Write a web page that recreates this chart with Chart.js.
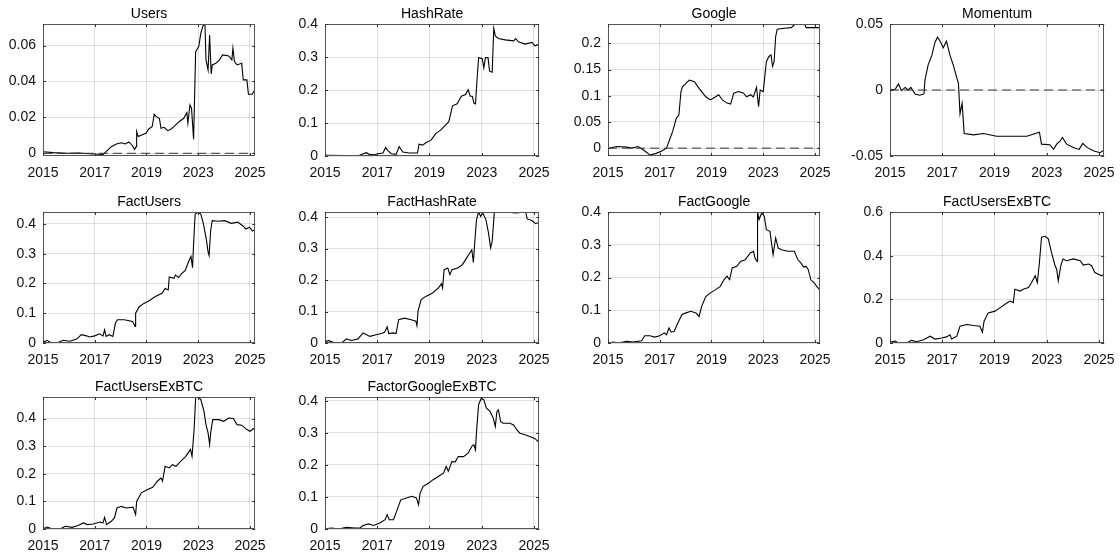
<!DOCTYPE html>
<html>
<head>
<meta charset="utf-8">
<script src="https://cdn.jsdelivr.net/npm/chart.js@4.4.1/dist/chart.umd.min.js"></script>
<style>
  html, body { margin: 0; padding: 0; background: #fff; }
  #wrap { position: relative; width: 1120px; height: 555px; overflow: hidden; background: #fff; }
  .panel { position: absolute; }
</style>
</head>
<body>
<div id="wrap"></div>
<script>
// ---------- data (x = position along the time axis, in tick intervals) ----------
const titles = ["Users", "HashRate", "Google", "Momentum", "FactUsers", "FactHashRate", "FactGoogle", "FactUsersExBTC", "FactUsersExBTC", "FactorGoogleExBTC"];
const xTickLabels = ["2015", "2017", "2019", "2023", "2025"];

const users = [[0,0.0009],[0.20,0.0004],[0.46,0.0],[0.71,0.0002],[0.97,-0.0004],[1.16,-0.0006],[1.22,0.0009],[1.32,0.0037],[1.42,0.0052],[1.51,0.0059],[1.59,0.0052],[1.66,0.0063],[1.72,0.0045],[1.77,0.0022],[1.80,0.0037],[1.81,0.0121],[1.84,0.0093],[1.91,0.0102],[1.99,0.0111],[2.04,0.0134],[2.11,0.0149],[2.15,0.0217],[2.19,0.0204],[2.25,0.0193],[2.28,0.0139],[2.34,0.0145],[2.41,0.0126],[2.47,0.0134],[2.53,0.0149],[2.63,0.0176],[2.72,0.0195],[2.78,0.0227],[2.80,0.0167],[2.84,0.0269],[2.87,0.0251],[2.90,0.0121],[2.91,0.0078],[2.95,0.0566],[3.01,0.0594],[3.05,0.0669],[3.09,0.0709],[3.13,0.0720],[3.15,0.0520],[3.19,0.0464],[3.22,0.0659],[3.25,0.0442],[3.27,0.0492],[3.34,0.0501],[3.41,0.0520],[3.47,0.0548],[3.59,0.0542],[3.65,0.0520],[3.67,0.0585],[3.70,0.0511],[3.75,0.0492],[3.84,0.0501],[3.87,0.0409],[3.94,0.0409],[3.97,0.0329],[4.04,0.0329],[4.10,0.0357]];

const hashRate = [[0,0.002],[0.41,0.001],[0.66,0.002],[0.73,0.007],[0.79,0.010],[0.85,0.005],[0.95,0.004],[1.01,0.007],[1.11,0.009],[1.16,0.026],[1.20,0.017],[1.27,0.007],[1.36,0.005],[1.42,0.028],[1.49,0.012],[1.61,0.009],[1.77,0.009],[1.80,0.036],[1.87,0.033],[1.93,0.040],[2.03,0.048],[2.12,0.068],[2.22,0.079],[2.31,0.094],[2.37,0.104],[2.44,0.152],[2.53,0.158],[2.61,0.181],[2.69,0.186],[2.74,0.201],[2.78,0.181],[2.82,0.181],[2.85,0.160],[2.88,0.158],[2.91,0.232],[2.94,0.298],[3.01,0.295],[3.04,0.267],[3.07,0.298],[3.12,0.298],[3.15,0.257],[3.20,0.254],[3.23,0.387],[3.26,0.364],[3.32,0.356],[3.45,0.352],[3.61,0.349],[3.65,0.356],[3.70,0.346],[3.83,0.339],[3.96,0.344],[4.02,0.334],[4.10,0.339]];

const google = [[0,-0.001],[0.17,0.003],[0.36,0.002],[0.46,0.0],[0.58,0.003],[0.68,-0.003],[0.81,-0.013],[0.93,-0.010],[1.03,-0.006],[1.13,0.0],[1.19,0.016],[1.25,0.032],[1.32,0.057],[1.37,0.063],[1.41,0.108],[1.44,0.117],[1.51,0.124],[1.57,0.130],[1.67,0.127],[1.76,0.114],[1.89,0.098],[1.98,0.092],[2.08,0.098],[2.14,0.102],[2.21,0.092],[2.30,0.086],[2.37,0.084],[2.43,0.105],[2.52,0.108],[2.62,0.105],[2.68,0.098],[2.75,0.102],[2.81,0.098],[2.87,0.116],[2.91,0.079],[2.94,0.111],[3.00,0.108],[3.06,0.165],[3.11,0.175],[3.15,0.178],[3.18,0.156],[3.21,0.165],[3.24,0.213],[3.27,0.227],[3.41,0.229],[3.54,0.230],[3.62,0.237],[3.80,0.237],[3.83,0.230],[4.10,0.230]];

const momentum = [[0,0.0],[0.10,0.0005],[0.16,0.0046],[0.22,-0.0005],[0.29,0.002],[0.35,0.0],[0.40,0.002],[0.48,-0.003],[0.57,-0.004],[0.65,-0.003],[0.67,0.0077],[0.73,0.019],[0.80,0.026],[0.86,0.036],[0.91,0.040],[0.96,0.037],[1.02,0.032],[1.08,0.037],[1.15,0.026],[1.21,0.019],[1.28,0.009],[1.31,0.005],[1.34,-0.018],[1.38,-0.010],[1.42,-0.033],[1.60,-0.034],[1.79,-0.033],[2.04,-0.035],[2.36,-0.035],[2.62,-0.035],[2.86,-0.032],[2.90,-0.041],[3.06,-0.0415],[3.13,-0.045],[3.19,-0.041],[3.25,-0.039],[3.30,-0.036],[3.38,-0.041],[3.51,-0.0435],[3.62,-0.045],[3.69,-0.0405],[3.77,-0.0435],[3.89,-0.046],[4.02,-0.0475],[4.10,-0.0455]];

const factUsers = [[0,0.002],[0.08,0.009],[0.14,0.002],[0.27,0.0],[0.39,0.009],[0.52,0.006],[0.65,0.013],[0.74,0.028],[0.84,0.024],[0.90,0.020],[1.00,0.024],[1.09,0.031],[1.16,0.024],[1.19,0.044],[1.22,0.022],[1.28,0.028],[1.35,0.022],[1.40,0.067],[1.44,0.078],[1.57,0.078],[1.73,0.072],[1.78,0.056],[1.79,0.100],[1.86,0.122],[1.95,0.133],[2.05,0.142],[2.17,0.156],[2.30,0.167],[2.36,0.183],[2.42,0.178],[2.44,0.222],[2.53,0.217],[2.56,0.228],[2.62,0.220],[2.68,0.233],[2.75,0.244],[2.81,0.272],[2.86,0.291],[2.89,0.253],[2.91,0.333],[2.94,0.433],[3.00,0.439],[3.05,0.433],[3.10,0.400],[3.16,0.344],[3.19,0.306],[3.21,0.294],[3.24,0.378],[3.27,0.411],[3.39,0.409],[3.51,0.411],[3.64,0.402],[3.76,0.406],[3.86,0.394],[3.92,0.383],[3.99,0.389],[4.05,0.376],[4.09,0.380]];

const factHashRate = [[0,0.002],[0.06,0.008],[0.16,0.002],[0.32,0.0],[0.41,0.013],[0.51,0.008],[0.63,0.013],[0.73,0.032],[0.86,0.021],[0.98,0.026],[1.08,0.030],[1.14,0.034],[1.19,0.051],[1.22,0.030],[1.30,0.032],[1.36,0.030],[1.41,0.074],[1.52,0.079],[1.65,0.074],[1.74,0.069],[1.76,0.055],[1.78,0.101],[1.84,0.138],[1.93,0.148],[2.06,0.159],[2.17,0.175],[2.23,0.188],[2.25,0.175],[2.28,0.233],[2.35,0.238],[2.39,0.217],[2.43,0.233],[2.54,0.238],[2.63,0.249],[2.73,0.275],[2.81,0.296],[2.84,0.256],[2.87,0.328],[2.90,0.392],[2.94,0.416],[2.98,0.402],[3.02,0.413],[3.08,0.392],[3.13,0.349],[3.17,0.302],[3.20,0.323],[3.24,0.413],[3.27,0.416],[3.46,0.416],[3.65,0.413],[3.84,0.416],[3.87,0.394],[3.96,0.389],[4.03,0.379],[4.09,0.383]];

const factGoogle = [[0,0.0],[0.11,0.003],[0.20,0.0],[0.36,0.005],[0.49,0.003],[0.65,0.007],[0.71,0.022],[0.81,0.022],[0.90,0.018],[1.00,0.022],[1.09,0.031],[1.13,0.025],[1.18,0.046],[1.22,0.033],[1.28,0.036],[1.35,0.061],[1.43,0.087],[1.51,0.092],[1.60,0.097],[1.70,0.092],[1.76,0.081],[1.81,0.112],[1.89,0.142],[1.98,0.153],[2.08,0.163],[2.17,0.173],[2.24,0.193],[2.30,0.204],[2.35,0.193],[2.40,0.229],[2.49,0.234],[2.56,0.249],[2.65,0.254],[2.75,0.275],[2.81,0.280],[2.84,0.260],[2.88,0.249],[2.89,0.400],[2.92,0.377],[2.97,0.397],[3.02,0.387],[3.06,0.346],[3.13,0.341],[3.16,0.305],[3.19,0.270],[3.24,0.321],[3.29,0.290],[3.35,0.285],[3.48,0.280],[3.60,0.280],[3.67,0.254],[3.73,0.244],[3.78,0.232],[3.83,0.234],[3.87,0.224],[3.92,0.193],[3.99,0.183],[4.04,0.171],[4.09,0.163]];

const factUsersExBTC = [[0,0.003],[0.10,0.009],[0.16,0.0],[0.32,0.0],[0.41,0.012],[0.51,0.006],[0.64,0.015],[0.77,0.031],[0.86,0.018],[0.99,0.023],[1.08,0.028],[1.15,0.038],[1.18,0.018],[1.28,0.031],[1.34,0.077],[1.47,0.085],[1.60,0.080],[1.72,0.077],[1.77,0.049],[1.80,0.100],[1.88,0.138],[2.01,0.146],[2.11,0.162],[2.23,0.182],[2.30,0.192],[2.36,0.185],[2.39,0.246],[2.49,0.238],[2.55,0.246],[2.65,0.254],[2.71,0.277],[2.78,0.308],[2.82,0.277],[2.86,0.369],[2.90,0.485],[2.97,0.489],[3.03,0.477],[3.09,0.415],[3.16,0.354],[3.19,0.338],[3.22,0.285],[3.27,0.354],[3.31,0.385],[3.38,0.377],[3.51,0.385],[3.64,0.377],[3.70,0.357],[3.80,0.362],[3.86,0.354],[3.92,0.323],[3.99,0.315],[4.05,0.308],[4.10,0.315]];

const factUsersExBTC2 = [[0,0.001],[0.08,0.007],[0.17,0.001],[0.33,0.0],[0.43,0.010],[0.56,0.006],[0.68,0.013],[0.78,0.022],[0.86,0.016],[0.97,0.018],[1.10,0.025],[1.16,0.022],[1.19,0.042],[1.23,0.016],[1.32,0.028],[1.38,0.040],[1.43,0.076],[1.51,0.082],[1.61,0.076],[1.74,0.079],[1.79,0.052],[1.81,0.100],[1.90,0.131],[2.02,0.143],[2.12,0.151],[2.21,0.173],[2.28,0.185],[2.31,0.173],[2.36,0.227],[2.44,0.221],[2.50,0.233],[2.57,0.227],[2.66,0.245],[2.76,0.263],[2.85,0.288],[2.88,0.263],[2.92,0.360],[2.95,0.475],[3.00,0.478],[3.05,0.469],[3.11,0.427],[3.15,0.378],[3.19,0.348],[3.22,0.306],[3.24,0.348],[3.28,0.396],[3.40,0.396],[3.49,0.390],[3.59,0.402],[3.68,0.400],[3.75,0.378],[3.84,0.376],[3.94,0.360],[4.00,0.354],[4.07,0.364],[4.10,0.360]];

const factorGoogleExBTC = [[0,0.001],[0.13,0.003],[0.26,0.0],[0.41,0.005],[0.57,0.003],[0.67,0.003],[0.73,0.011],[0.83,0.016],[0.93,0.011],[1.05,0.019],[1.15,0.029],[1.19,0.045],[1.23,0.029],[1.31,0.029],[1.37,0.055],[1.45,0.091],[1.56,0.097],[1.66,0.102],[1.75,0.097],[1.79,0.076],[1.82,0.112],[1.88,0.133],[1.98,0.143],[2.07,0.154],[2.17,0.164],[2.27,0.175],[2.32,0.195],[2.36,0.180],[2.43,0.211],[2.49,0.209],[2.55,0.226],[2.65,0.226],[2.74,0.237],[2.81,0.258],[2.85,0.263],[2.88,0.247],[2.90,0.304],[2.94,0.388],[2.99,0.408],[3.04,0.403],[3.09,0.377],[3.16,0.367],[3.22,0.346],[3.26,0.320],[3.29,0.367],[3.32,0.372],[3.36,0.336],[3.41,0.330],[3.54,0.330],[3.61,0.325],[3.67,0.310],[3.73,0.299],[3.83,0.294],[3.92,0.289],[4.02,0.282],[4.09,0.271]];

const yTicksUsers = [0, 0.02, 0.04, 0.06];
const yTicksTenths = [0, 0.1, 0.2, 0.3, 0.4];
const yTicksGoogle = [0, 0.05, 0.1, 0.15, 0.2];
const yTicksMomentum = [-0.05, 0, 0.05];
const yTicksFifths = [0, 0.2, 0.4, 0.6];

// ---------- panel setup ----------
const seriesList = [users, hashRate, google, momentum, factUsers, factHashRate, factGoogle, factUsersExBTC, factUsersExBTC2, factorGoogleExBTC];
const yTicksList = [yTicksUsers, yTicksTenths, yTicksGoogle, yTicksMomentum, yTicksTenths, yTicksTenths, yTicksTenths, yTicksFifths, yTicksTenths, yTicksTenths];
const yRanges = [[-0.0015, 0.072], [0, 0.4], [-0.015, 0.237], [-0.05, 0.05], [0, 0.44], [0, 0.416], [0, 0.4], [0, 0.6], [0, 0.478], [0, 0.412]];

const colLeft = [43, 325, 608, 890];
const colWidth = [214, 216, 214, 216];
const rowTop = [24, 212, 397];
const rowHeight = [132, 131, 132];
const PAD_L = 43, PAD_T = 24, PAD_R = 18, PAD_B = 26;
const X_MAX = 4.1;
const FONT = '"Liberation Sans", Arial, Helvetica, sans-serif';

const boxPlugin = {
  id: 'matlabBox',
  afterDraw(chart) {
    const { ctx, chartArea: a } = chart;
    ctx.save();
    ctx.strokeStyle = '#555';
    ctx.lineWidth = 1;
    ctx.strokeRect(Math.round(a.left) + 0.5, Math.round(a.top) + 0.5, Math.round(a.right - a.left) - 1, Math.round(a.bottom - a.top) - 1);
    // inward tick marks
    const xs = chart.scales.x, ys = chart.scales.y;
    ctx.strokeStyle = '#333';
    ctx.beginPath();
    xs.ticks.forEach(t => {
      const px = Math.round(xs.getPixelForValue(t.value)) + 0.5;
      ctx.moveTo(px, a.bottom); ctx.lineTo(px, a.bottom - 3);
      ctx.moveTo(px, a.top); ctx.lineTo(px, a.top + 3);
    });
    ys.ticks.forEach(t => {
      const py = Math.round(ys.getPixelForValue(t.value)) + 0.5;
      ctx.moveTo(a.left, py); ctx.lineTo(a.left + 3, py);
      ctx.moveTo(a.right, py); ctx.lineTo(a.right - 3, py);
    });
    ctx.stroke();
    // title
    const title = chart.options.plugins.matlabBox.title;
    ctx.fillStyle = '#000';
    ctx.font = '14px ' + FONT;
    ctx.textAlign = 'center';
    ctx.textBaseline = 'middle';
    ctx.fillText(title, (a.left + a.right) / 2, a.top - 10);
    ctx.restore();
  }
};

const wrap = document.getElementById('wrap');
seriesList.forEach((series, i) => {
  const r = Math.floor(i / 4), c = i % 4;
  const w = colWidth[c] + PAD_L + PAD_R;
  const h = rowHeight[r] + PAD_T + PAD_B;
  const div = document.createElement('div');
  div.className = 'panel';
  div.style.left = (colLeft[c] - PAD_L) + 'px';
  div.style.top = (rowTop[r] - PAD_T) + 'px';
  div.style.width = w + 'px';
  div.style.height = h + 'px';
  const cv = document.createElement('canvas');
  cv.width = w; cv.height = h;
  cv.style.width = w + 'px'; cv.style.height = h + 'px';
  div.appendChild(cv);
  wrap.appendChild(div);

  const yt = yTicksList[i];
  new Chart(cv, {
    type: 'line',
    data: {
      datasets: [
        {
          data: [[0, 0], [X_MAX, 0]],
          borderColor: '#333',
          borderWidth: 1,
          borderDash: [9, 5],
          pointRadius: 0,
          fill: false
        },
        {
          data: series,
          borderColor: '#000',
          borderWidth: 1.1,
          pointRadius: 0,
          tension: 0,
          fill: false
        }
      ]
    },
    options: {
      responsive: false,
      animation: false,
      devicePixelRatio: 1,
      events: [],
      layout: { padding: { left: 0, top: PAD_T, right: PAD_R, bottom: 0 } },
      plugins: {
        legend: { display: false },
        title: { display: false },
        tooltip: { enabled: false },
        matlabBox: { title: titles[i] }
      },
      scales: {
        x: {
          type: 'linear',
          min: 0,
          max: X_MAX,
          afterBuildTicks: s => { s.ticks = xTickLabels.map((_, k) => ({ value: k })); },
          afterFit: s => { s.height = PAD_B; },
          grid: { color: 'rgba(0,0,0,0.12)', drawTicks: false, lineWidth: 1 },
          border: { display: false },
          ticks: {
            padding: 9,
            maxRotation: 0,
            autoSkip: false,
            color: '#111',
            font: { family: FONT, size: 14 },
            callback: v => xTickLabels[Math.round(v)]
          }
        },
        y: {
          type: 'linear',
          min: yRanges[i][0],
          max: yRanges[i][1],
          afterBuildTicks: s => { s.ticks = yt.map(v => ({ value: v })); },
          afterFit: s => { s.width = PAD_L; },
          grid: { color: 'rgba(0,0,0,0.12)', drawTicks: false, lineWidth: 1 },
          border: { display: false },
          ticks: {
            padding: 7,
            autoSkip: false,
            color: '#111',
            font: { family: FONT, size: 14 },
            callback: v => String(v)
          }
        }
      }
    },
    plugins: [boxPlugin]
  });
});
</script>
</body>
</html>
